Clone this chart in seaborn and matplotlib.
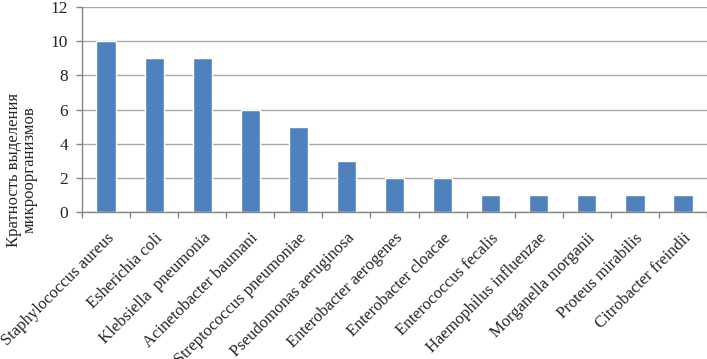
import pandas as pd
import matplotlib.pyplot as plt
import seaborn as sns

# categories and counts
organisms = [
    "Staphylococcus aureus", "Esherichia coli", "Klebsiella  pneumonia",
    "Acinetobacter baumani", "Streptococcus pneumoniae", "Pseudomonas aeruginosa",
    "Enterobacter aerogenes", "Enterobacter cloacae", "Enterococcus fecalis",
    "Haemophilus influenzae", "Morganella morganii", "Proteus mirabilis",
    "Citrobacter freindii",
]
counts = [10, 9, 9, 6, 5, 3, 2, 2, 1, 1, 1, 1, 1]
y_ticks = [0, 2, 4, 6, 8, 10, 12]
y_label = "Кратность выделения\nмикроорганизмов"

data = pd.DataFrame({"organism": organisms, "count": counts})

sns.set_style("white")
plt.rcParams['font.family'] = ['Liberation Serif', 'DejaVu Serif']

fig = plt.figure(figsize=(7.07, 3.59), dpi=100)
ax = fig.add_axes([82 / 707, 1 - 212 / 359, 1 - 82 / 707, (212 - 7) / 359])

sns.barplot(data=data, x="organism", y="count", color="#4F81BD",
            saturation=1, width=0.4, ax=ax)

ax.set_ylim(0, 12)
ax.set_xlim(-0.5, len(organisms) - 0.5)
ax.set_yticks(y_ticks)
ax.set_yticklabels([str(t) for t in y_ticks], fontsize=12.5)
ax.yaxis.grid(True, color="#A6A6A6", linewidth=1)
ax.set_axisbelow(True)

# labels at bar centres, tick marks between categories
ax.set_xticks(range(len(organisms)))
ax.set_xticklabels(organisms, rotation=45, ha="right", rotation_mode="anchor",
                   fontsize=12)
ax.set_xticks([i + 0.5 for i in range(-1, len(organisms))], minor=True)
ax.tick_params(axis="x", which="major", length=0, pad=13)
ax.tick_params(axis="x", which="minor", length=4, color="#868686", width=1,
               direction="out", bottom=True)
ax.tick_params(axis="y", length=4, color="#868686", width=1, direction="out",
               left=True, pad=6)

for side in ["top", "right"]:
    ax.spines[side].set_visible(False)
for side in ["left", "bottom"]:
    ax.spines[side].set_color("#868686")
    ax.spines[side].set_linewidth(1)

ax.set_xlabel("")
ax.set_ylabel("")
fig.text(22 / 707, 1 - 170 / 359, y_label, rotation=90, ha="center",
         va="center", multialignment="center", fontsize=12, linespacing=1.0)

fig.savefig("out.png", dpi=100)
